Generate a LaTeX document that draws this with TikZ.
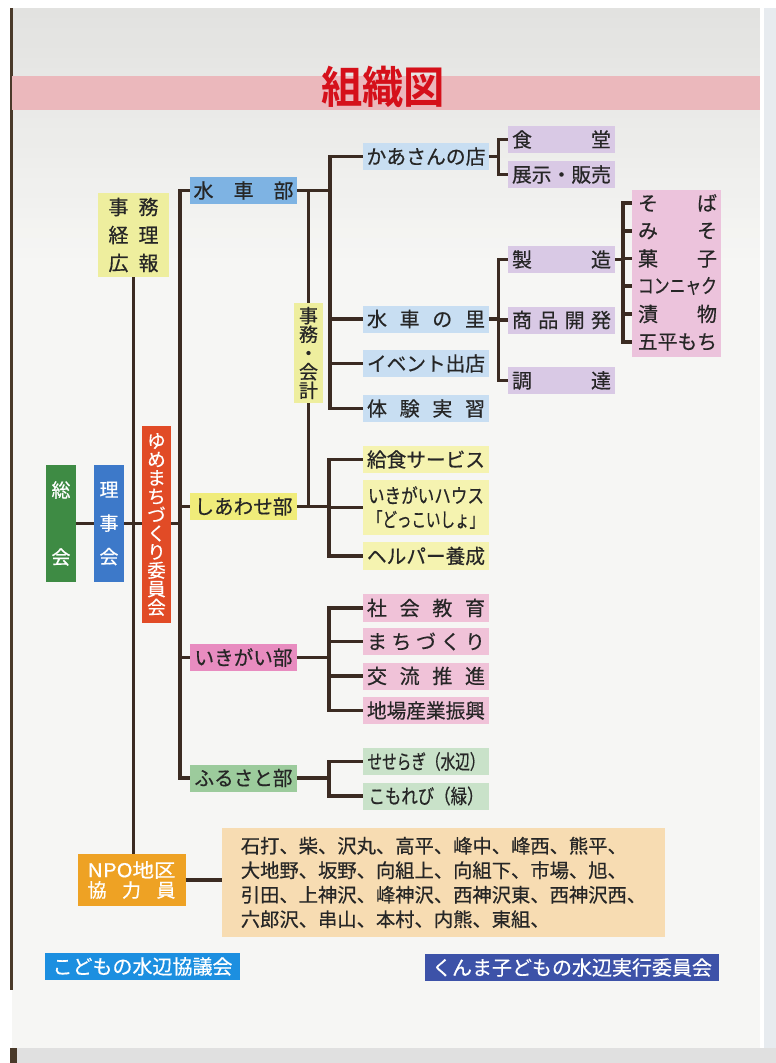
\documentclass[tikz,border=0pt]{standalone}
\usepackage{fontspec}
\usepackage{graphicx}
\newfontfamily\jp[RawFeature={embolden=0.5}]{Noto Sans CJK JP}
\newfontfamily\jpb{Noto Sans CJK JP Bold}
\newcommand\fitw[2]{\resizebox{#1}{\height}{#2}}
\newcommand\spr[2]{\hbox to #1{#2}}
\definecolor{txt}{HTML}{262626}
\definecolor{lnc}{HTML}{3B2B22}
\definecolor{pgtop}{HTML}{E2E2E0}
\definecolor{pgbot}{HTML}{F6F6F4}
\definecolor{band}{HTML}{EBB8BC}
\definecolor{titlered}{HTML}{D5101A}
\definecolor{cBlueD}{HTML}{7EB3E3}
\definecolor{cBlueL}{HTML}{C8DEF2}
\definecolor{cYel}{HTML}{EEEE9E}
\definecolor{cYelD}{HTML}{F0EC7A}
\definecolor{cYelL}{HTML}{F5F3B0}
\definecolor{cPurple}{HTML}{D9C9E5}
\definecolor{cPinkB}{HTML}{ECC3DC}
\definecolor{cPinkD}{HTML}{E88CC0}
\definecolor{cPinkL}{HTML}{F0C2D8}
\definecolor{cGreenD}{HTML}{9CCB9C}
\definecolor{cGreenL}{HTML}{C9E2C9}
\definecolor{cSokai}{HTML}{3E8B44}
\definecolor{cRiji}{HTML}{3D79C9}
\definecolor{cYume}{HTML}{E14B26}
\definecolor{cNpo}{HTML}{EEA224}
\definecolor{cTan}{HTML}{F7DCB2}
\definecolor{cKodomo}{HTML}{1C8FE0}
\definecolor{cKunma}{HTML}{3D52A8}
\definecolor{edge}{HTML}{4A3A2A}
\definecolor{rside}{HTML}{E7EBEF}
\tikzset{
  box/.style={rectangle, inner sep=0pt, draw=none, text=txt,
    font=\jp\fontsize{20}{24}\selectfont},
  dept/.style={box, minimum width=107, minimum height=27},
  child/.style={box, minimum width=126, minimum height=27},
  purp/.style={box, fill=cPurple, minimum width=107, minimum height=27},
  item/.style={box, inner sep=0pt},
  ln/.style={draw=lnc, line width=3.4pt, line join=miter},
}
\begin{document}
\begin{tikzpicture}[x=1pt,y=-1pt]
\useasboundingbox (0,0) rectangle (776,1063);
% page background
\fill[white] (0,0) rectangle (776,1063);
\foreach \i in {0,...,24}{
  \pgfmathsetmacro\p{100-4*\i}
  \fill[pgtop!\p!pgbot] (12,{8+10*\i}) rectangle (760,{18.5+10*\i});
}
\fill[pgbot] (12,258) rectangle (760,1048);
\fill[rside] (764,0) rectangle (776,1063);
\fill[white] (0,0) rectangle (776,8);
\fill[edge] (10,8) rectangle (13,990);
\fill[black!12] (10,1048) rectangle (776,1063);
\fill[edge] (10,1048) rectangle (17,1063);
% title band
\fill[band] (12,76) rectangle (760,110);
\node[box, text=titlered, font=\jpb\fontsize{44}{48}\selectfont] (title) at (383,87) {\fitw{124pt}{組織図}};

% left side
\node[box, fill=cYel, minimum width=71, minimum height=84, align=center,
  font=\jp\fontsize{20}{28}\selectfont] (jimu) at (133.5,235)
  {事\hspace{10pt}務\\経\hspace{10pt}理\\広\hspace{10pt}報};
\node[box, fill=cSokai, text=white, minimum width=30.5, minimum height=116.5, align=center,
  font=\jp\fontsize{19}{33.5}\selectfont] (sokai) at (61,523.5) {総\\[33.5pt]会};
\node[box, fill=cRiji, text=white, minimum width=30.5, minimum height=116.5, align=center,
  font=\jp\fontsize{19}{33.5}\selectfont] (riji) at (109,523.5) {理\\事\\会};
\node[box, fill=cYume, text=white, minimum width=29, minimum height=197, align=center,
  font=\jp\fontsize{18.5}{18.5}\selectfont] (yume) at (156.5,524.5)
  {ゆ\\め\\ま\\ち\\づ\\く\\り\\委\\員\\会};
\node[box, fill=cYel, minimum width=29, minimum height=100, align=center,
  font=\jp\fontsize{19}{18.7}\selectfont] (jk) at (308.5,353) {事\\務\\・\\会\\計};

% departments
\node[dept, fill=cBlueD] (suisha) at (243.5,190.5) {\spr{100pt}{水\hfil 車\hfil 部}};
\node[dept, fill=cYelD] (shiawase) at (243.5,506.5) {\fitw{98pt}{しあわせ部}};
\node[dept, fill=cPinkD] (ikigai) at (243.5,657.5) {\fitw{98pt}{いきがい部}};
\node[dept, fill=cGreenD] (furusato) at (243.5,778) {\fitw{98pt}{ふるさと部}};

% suisha children
\node[child, fill=cBlueL] (kaasan) at (426,156.5) {\fitw{119pt}{かあさんの店}};
\node[child, fill=cBlueL] (sato) at (426,319) {\spr{118pt}{水\hfil 車\hfil の\hfil 里}};
\node[child, fill=cBlueL] (event) at (426,363.5) {\fitw{118pt}{イベント出店}};
\node[child, fill=cBlueL] (taiken) at (426,408.5) {\spr{118pt}{体\hfil 験\hfil 実\hfil 習}};
% shiawase children
\node[child, fill=cYelL] (kyushoku) at (426,459.5) {\fitw{118pt}{給食サービス}};
\node[child, fill=cYelL, minimum height=55, align=center] (house) at (426,507.5)
  {\fitw{116pt}{いきがいハウス}\\\fitw{116pt}{「どっこいしょ」}};
\node[child, fill=cYelL, minimum height=28] (helper) at (426,556) {\fitw{118pt}{ヘルパー養成}};
% ikigai children
\node[child, fill=cPinkL, minimum height=28] (shakai) at (426,608) {\spr{118pt}{社\hfil 会\hfil 教\hfil 育}};
\node[child, fill=cPinkL] (machi) at (426,641.5) {\spr{118pt}{ま\hfil ち\hfil づ\hfil く\hfil り}};
\node[child, fill=cPinkL] (koryu) at (426,676) {\spr{118pt}{交\hfil 流\hfil 推\hfil 進}};
\node[child, fill=cPinkL] (jiba) at (426,710.5) {\fitw{118pt}{地場産業振興}};
% furusato children
\node[child, fill=cGreenL] (seseragi) at (426,761.5) {\fitw{117pt}{せせらぎ（水辺）}};
\node[child, fill=cGreenL] (komorebi) at (426,796) {\fitw{115pt}{こもれび（緑）}};

% purple column
\node[purp] (shokudo) at (561.5,139.5) {\spr{99pt}{食\hfil 堂}};
\node[purp] (tenji) at (561.5,174.5) {\fitw{99pt}{展示・販売}};
\node[purp] (seizo) at (561.5,259.5) {\spr{99pt}{製\hfil 造}};
\node[purp] (shohin) at (561.5,320) {\spr{99pt}{商\hfil 品\hfil 開\hfil 発}};
\node[purp] (chotatsu) at (561.5,380.5) {\spr{99pt}{調\hfil 達}};

% pink block
\node[box, fill=cPinkB, minimum width=89, minimum height=167] (pblock) at (676.5,273.5) {};
\node[item] (soba) at (677.5,203) {\spr{79pt}{そ\hfil ば}};
\node[item] (miso) at (677.5,231) {\spr{79pt}{み\hfil そ}};
\node[item] (kashi) at (677.5,258.5) {\spr{79pt}{菓\hfil 子}};
\node[item] (konnyaku) at (677.5,286) {\fitw{79pt}{コンニャク}};
\node[item] (tsuke) at (677.5,314) {\spr{79pt}{漬\hfil 物}};
\node[item] (gohei) at (677.5,342) {\fitw{79pt}{五平もち}};

% bottom
\node[box, fill=cNpo, text=white, minimum width=108, minimum height=52, align=center,
  font=\jp\fontsize{19}{20}\selectfont] (npo) at (131.5,880)
  {\fitw{88pt}{NPO地区}\\\spr{88pt}{協\hfil 力\hfil 員}};
\node[box, fill=cTan, minimum width=443, minimum height=109, align=left,
  font=\jp\fontsize{19.3}{24.5}\selectfont] (villages) at (443.5,882.5)
  {石打、柴、沢丸、高平、峰中、峰西、熊平、\\大地野、坂野、向組上、向組下、市場、旭、\\引田、上神沢、峰神沢、西神沢東、西神沢西、\\六郎沢、串山、本村、内熊、東組、};
\node[box, fill=cKodomo, text=white, minimum width=195, minimum height=27] (kodomo) at (142.5,966.5) {こどもの水辺協議会};
\node[box, fill=cKunma, text=white, minimum width=294, minimum height=27] (kunma) at (572,967.5) {くんま子どもの水辺実行委員会};

% connectors
\coordinate (tk) at (180,0);
\coordinate (b1) at (330,0);
\coordinate (b2) at (329,0);
\coordinate (b3) at (498.5,0);
\coordinate (b4) at (623,0);

\draw[ln] (jimu.south) -- (jimu.south |- npo.north);
\draw[ln] (sokai.east) -- (riji.west);
\draw[ln] (riji.east) -- (yume.west |- riji.east);
\draw[ln] (yume.east |- riji.east) -- (tk |- riji.east);
\draw[ln] (suisha.west) -- (tk |- suisha.west) -- (tk |- furusato.west) -- (furusato.west);
\draw[ln] (tk |- shiawase.west) -- (shiawase.west);
\draw[ln] (tk |- ikigai.west) -- (ikigai.west);

\draw[ln] (suisha.east) -- (b1 |- suisha.east);
\draw[ln] (kaasan.west) -- (b1 |- kaasan.west) -- (b1 |- taiken.west) -- (taiken.west);
\draw[ln] (b1 |- sato.west) -- (sato.west);
\draw[ln] (b1 |- event.west) -- (event.west);
\draw[ln] (jk.north |- suisha.east) -- (jk.north);
\draw[ln] (jk.south) -- (jk.south |- shiawase.east);

\draw[ln] (shiawase.east) -- (b2 |- shiawase.east);
\draw[ln] (kyushoku.west) -- (b2 |- kyushoku.west) -- (b2 |- helper.west) -- (helper.west);
\draw[ln] (b2 |- house.west) -- (house.west);

\draw[ln] (ikigai.east) -- (b2 |- ikigai.east);
\draw[ln] (shakai.west) -- (b2 |- shakai.west) -- (b2 |- jiba.west) -- (jiba.west);
\draw[ln] (b2 |- machi.west) -- (machi.west);
\draw[ln] (b2 |- koryu.west) -- (koryu.west);

\draw[ln] (furusato.east) -- (b2 |- furusato.east);
\draw[ln] (seseragi.west) -- (b2 |- seseragi.west) -- (b2 |- komorebi.west) -- (komorebi.west);

\draw[ln] (kaasan.east) -- (b3 |- kaasan.east);
\draw[ln] (shokudo.west) -- (b3 |- shokudo.west) -- (b3 |- tenji.west) -- (tenji.west);
\draw[ln] (sato.east) -- (b3 |- sato.east);
\draw[ln] (seizo.west) -- (b3 |- seizo.west) -- (b3 |- chotatsu.west) -- (chotatsu.west);
\draw[ln] (b3 |- shohin.west) -- (shohin.west);

\draw[ln] (seizo.east) -- (b4 |- seizo.east);
\draw[ln] (pblock.west |- soba.west) -- (b4 |- soba.west) -- (b4 |- gohei.west) -- (pblock.west |- gohei.west);
\draw[ln] (b4 |- miso.west) -- (pblock.west |- miso.west);
\draw[ln] (b4 |- kashi.west) -- (pblock.west |- kashi.west);
\draw[ln] (b4 |- konnyaku.west) -- (pblock.west |- konnyaku.west);
\draw[ln] (b4 |- tsuke.west) -- (pblock.west |- tsuke.west);

\draw[ln] (npo.east) -- (villages.west |- npo.east);
\end{tikzpicture}
\end{document}
